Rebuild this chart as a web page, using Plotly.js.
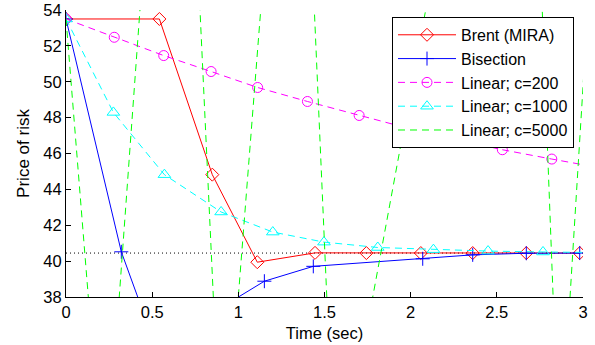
<!DOCTYPE html>
<html>
<head>
<meta charset="utf-8">
<script src="https://cdn.plot.ly/plotly-3.0.1.min.js"></script>
<style>html,body{margin:0;padding:0;background:#fff;}#chart{width:595px;height:345px;}</style>
</head>
<body>
<div id="chart"></div>
<script>
// Data
const seriesNames = ["Brent (MIRA)", "Bisection", "Linear; c=200", "Linear; c=1000", "Linear; c=5000"];

const timeBrent  = [0, 0.542, 0.849, 1.110, 1.445, 1.743, 2.059, 2.360, 2.671, 2.981];
const priceBrent = [53.5, 53.5, 44.82, 39.94, 40.46, 40.45, 40.45, 40.45, 40.45, 40.45];

const timeBisect  = [0, 0.321, 0.522, 1.151, 1.435, 2.070, 2.360, 2.671, 2.981];
const priceBisect = [53.5, 40.52, 35.2, 38.88, 39.71, 40.13, 40.35, 40.44, 40.45];

const timeLin200  = [0, 0.280, 0.567, 0.842, 1.112, 1.401, 1.701, 1.980, 2.258, 2.532, 2.819, 3.100];
const priceLin200 = [53.5, 52.48, 51.46, 50.57, 49.68, 48.90, 48.12, 47.42, 46.80, 46.21, 45.69, 45.20];

const timeLin1000  = [0, 0.275, 0.571, 0.900, 1.200, 1.497, 1.809, 2.132, 2.449, 2.768, 3.080];
const priceLin1000 = [53.5, 48.29, 44.82, 42.74, 41.62, 41.06, 40.76, 40.64, 40.56, 40.51, 40.48];

const timeLin5000  = [0, 0.224, 0.641, 0.909, 1.330, 1.564, 2.648, 2.864, 3.214];
const priceLin5000 = [53.5, 26.70, 82.2, 26.84, 78.6, 26.76, 83.2, 28.55, 83.0];

const refTime  = [0, 3];
const refPrice = [40.45, 40.45];

const xTicks = [0, 0.5, 1, 1.5, 2, 2.5, 3];
const xTickLabels = ["0", "0.5", "1", "1.5", "2", "2.5", "3"];
const yTicks = [38, 40, 42, 44, 46, 48, 50, 52, 54];
const yTickLabels = ["38", "40", "42", "44", "46", "48", "50", "52", "54"];

const FONT = "Liberation Sans, Arial, Helvetica, sans-serif";
const dashPat = "7px,5px";

const traces = [
  {x: refTime, y: refPrice, mode: "lines", showlegend: false, hoverinfo: "skip",
   line: {color: "#000", width: 1, dash: "1px,3px"}},
  {x: timeBrent, y: priceBrent, name: seriesNames[0], mode: "lines+markers",
   line: {color: "#ff0000", width: 1},
   marker: {symbol: "diamond-open", size: 10, color: "#ff0000", line: {width: 1, color: "#ff0000"}}},
  {x: timeBisect, y: priceBisect, name: seriesNames[1], mode: "lines+markers",
   line: {color: "#0000ff", width: 1},
   marker: {symbol: "cross-thin-open", size: 10, color: "#0000ff", line: {width: 1, color: "#0000ff"}}},
  {x: timeLin200, y: priceLin200, name: seriesNames[2], mode: "lines+markers",
   line: {color: "#ff00ff", width: 1, dash: dashPat},
   marker: {symbol: "circle-open", size: 10, color: "#ff00ff", line: {width: 1, color: "#ff00ff"}}},
  {x: timeLin1000, y: priceLin1000, name: seriesNames[3], mode: "lines+markers",
   line: {color: "#00ffff", width: 1, dash: dashPat},
   marker: {symbol: "triangle-up-open", size: 11, color: "#00ffff", line: {width: 1, color: "#00ffff"}}},
  {x: timeLin5000, y: priceLin5000, name: seriesNames[4], mode: "lines",
   line: {color: "#00ff00", width: 1, dash: dashPat}}
];

const layout = {
  width: 595, height: 345,
  margin: {l: 66, r: 12, t: 10, b: 48, pad: 0},
  paper_bgcolor: "#fff", plot_bgcolor: "#fff",
  font: {family: FONT, size: 16, color: "#000"},
  showlegend: true,
  legend: {
    x: 0.9826, xanchor: "right", y: 0.976, yanchor: "top",
    bgcolor: "#fff", bordercolor: "#000", borderwidth: 1,
    font: {family: FONT, size: 16, color: "#000"},
    tracegroupgap: 0, itemwidth: 58
  },
  xaxis: {
    range: [0, 3], tickmode: "array", tickvals: xTicks, ticktext: xTickLabels,
    ticks: "inside", ticklen: 5, tickcolor: "#000", tickwidth: 1,
    showline: true, linecolor: "#000", linewidth: 1, mirror: false,
    showgrid: false, zeroline: false,
    tickfont: {family: FONT, size: 16.5, color: "#000"},
    title: {text: "Time (sec)", font: {family: FONT, size: 16.5, color: "#000"}, standoff: 7}
  },
  yaxis: {
    range: [38, 54], tickmode: "array", tickvals: yTicks, ticktext: yTickLabels,
    ticks: "inside", ticklen: 5, tickcolor: "#000", tickwidth: 1,
    showline: true, linecolor: "#000", linewidth: 1, mirror: false,
    showgrid: false, zeroline: false,
    tickfont: {family: FONT, size: 16.5, color: "#000"},
    title: {text: "Price of risk", font: {family: FONT, size: 17, color: "#000"}, standoff: 9}
  }
};

Plotly.newPlot("chart", traces, layout, {staticPlot: true, displayModeBar: false});
</script>
</body>
</html>
